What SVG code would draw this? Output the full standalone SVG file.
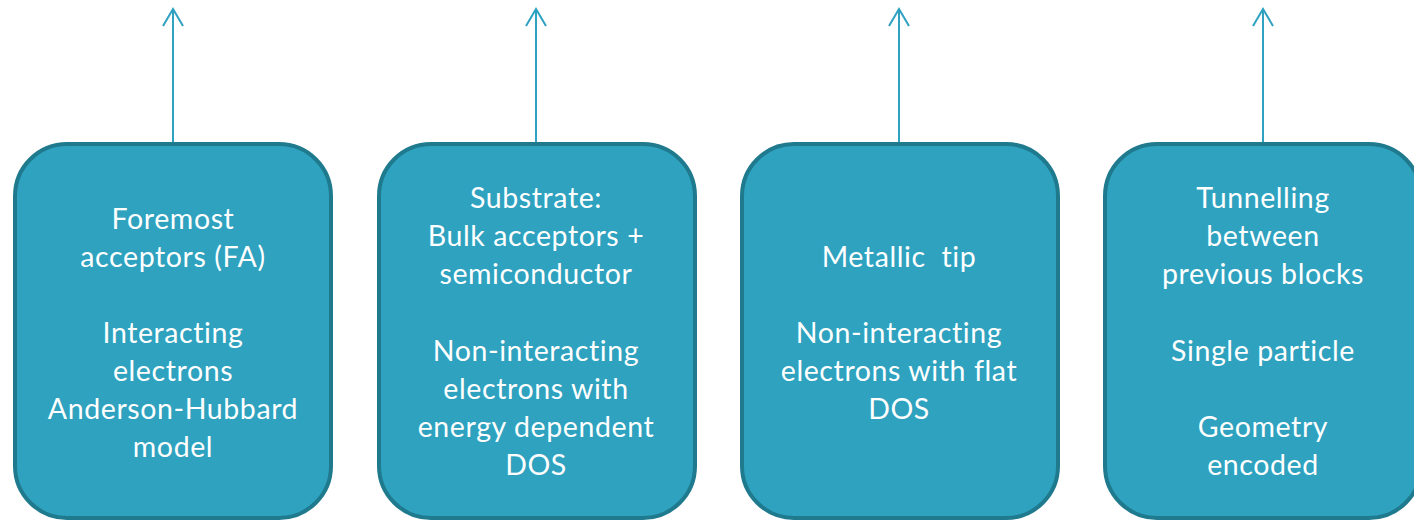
<svg xmlns="http://www.w3.org/2000/svg" width="1414" height="522" viewBox="0 0 1414 522">
  <style>
    .box { fill: #2EA2BF; stroke: #1F7A8E; stroke-width: 4; }
    .label { font-family: Lato, "Liberation Sans", sans-serif; font-size: 28.5px; letter-spacing: 0.6px; fill: #FFFFFF; text-anchor: middle; }
    .link { stroke: #2EA2C0; stroke-width: 2; fill: none; }
  </style>
  <defs>
    <!-- open chevron head; +x points along the connector -->
    <marker id="open-arrow" viewBox="0 0 20 24" refX="18" refY="12" markerWidth="20" markerHeight="24" markerUnits="userSpaceOnUse" orient="auto">
      <path d="M1,2 L18,12 L1,22" fill="none" stroke="#2EA2C0" stroke-width="2"/>
    </marker>
  </defs>

  <!-- upward connectors leaving each block -->
  <g id="connectors">
    <line class="link" x1="173" y1="142" x2="173" y2="9" marker-end="url(#open-arrow)"/>
    <line class="link" x1="536" y1="142" x2="536" y2="9" marker-end="url(#open-arrow)"/>
    <line class="link" x1="899" y1="142" x2="899" y2="9" marker-end="url(#open-arrow)"/>
    <line class="link" x1="1263" y1="142" x2="1263" y2="9" marker-end="url(#open-arrow)"/>
  </g>

  <g id="node-fa">
    <rect class="box" x="15" y="144" width="316" height="374" rx="52" ry="52"/>
    <text class="label" x="173" y="229">Foremost</text>
    <text class="label" x="173" y="267">acceptors (FA)</text>
    <text class="label" x="173" y="343">Interacting</text>
    <text class="label" x="173" y="381">electrons</text>
    <text class="label" x="173" y="419">Anderson-Hubbard</text>
    <text class="label" x="173" y="457">model</text>
  </g>

  <g id="node-substrate">
    <rect class="box" x="379" y="144" width="316" height="374" rx="52" ry="52"/>
    <text class="label" x="536" y="208">Substrate:</text>
    <text class="label" x="536" y="246">Bulk acceptors +</text>
    <text class="label" x="536" y="284">semiconductor</text>
    <text class="label" x="536" y="361">Non-interacting</text>
    <text class="label" x="536" y="399">electrons with</text>
    <text class="label" x="536" y="437">energy dependent</text>
    <text class="label" x="536" y="475">DOS</text>
  </g>

  <g id="node-tip">
    <rect class="box" x="742" y="144" width="316" height="374" rx="52" ry="52"/>
    <text class="label" x="899" y="267" xml:space="preserve">Metallic  tip</text>
    <text class="label" x="899" y="343">Non-interacting</text>
    <text class="label" x="899" y="381">electrons with flat</text>
    <text class="label" x="899" y="419">DOS</text>
  </g>

  <g id="node-tunnelling">
    <rect class="box" x="1105" y="144" width="316" height="374" rx="52" ry="52"/>
    <text class="label" x="1263" y="208">Tunnelling</text>
    <text class="label" x="1263" y="246">between</text>
    <text class="label" x="1263" y="284">previous blocks</text>
    <text class="label" x="1263" y="361">Single particle</text>
    <text class="label" x="1263" y="437">Geometry</text>
    <text class="label" x="1263" y="475">encoded</text>
  </g>
</svg>
